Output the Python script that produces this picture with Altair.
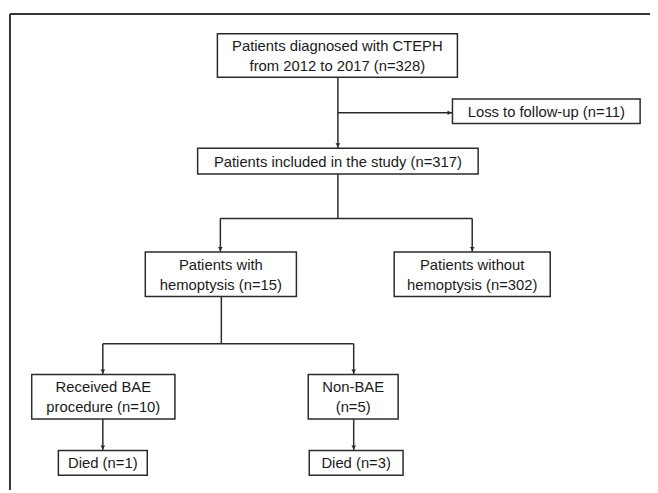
import altair as alt
import pandas as pd

# ---- content (text of each box) ----
box_names = ["diag", "loss", "incl", "hemo", "nohemo", "bae", "nonbae", "died1", "died3"]
box_labels = [
    "Patients diagnosed with CTEPH\nfrom 2012 to 2017 (n=328)",
    "Loss to follow-up (n=11)",
    "Patients included in the study (n=317)",
    "Patients with\nhemoptysis (n=15)",
    "Patients without\nhemoptysis (n=302)",
    "Received BAE\nprocedure (n=10)",
    "Non-BAE\n(n=5)",
    "Died (n=1)",
    "Died (n=3)",
]

# ---- layout (pixel positions of the flowchart elements) ----
layout = {
    "diag":   (220, 463, 31, 75),
    "loss":   (458, 648, 97, 122),
    "incl":   (200, 484, 147, 173),
    "hemo":   (147, 300, 252, 297),
    "nohemo": (399, 557, 252, 297),
    "bae":    (32, 177, 376, 421),
    "nonbae": (312, 403, 376, 421),
    "died1":  (59, 149, 453, 478),
    "died3":  (313, 408, 453, 478),
}
segments = [  # x, y, x2, y2
    (342, 75, 342, 147),
    (342, 111, 458, 111),
    (342, 173, 342, 218),
    (223, 218, 478, 218),
    (223, 218, 223, 252),
    (478, 218, 478, 252),
    (224, 297, 224, 345),
    (104, 345, 358, 345),
    (104, 345, 104, 376),
    (358, 345, 358, 376),
    (104, 421, 104, 453),
    (358, 421, 358, 453),
]
arrows_down = [(342, 147), (223, 252), (478, 252), (104, 376), (358, 376), (104, 453), (358, 453)]
arrows_right = [(458, 111)]
frame = [(10, 11, 10, 493), (10, 11, 658, 11)]
LINE_HEIGHT = 20

boxes = pd.DataFrame({
    "name": box_names,
    "label": box_labels,
    "x0": [layout[n][0] for n in box_names],
    "x1": [layout[n][1] for n in box_names],
    "y0": [layout[n][2] for n in box_names],
    "y1": [layout[n][3] for n in box_names],
})
boxes["cx"] = (boxes.x0 + boxes.x1) / 2
nlines = boxes["label"].str.count("\n") + 1
boxes["ty"] = (boxes.y0 + boxes.y1) / 2 - (nlines - 1) * LINE_HEIGHT / 2 + 0.5

seg = pd.DataFrame(segments, columns=["x", "y", "x2", "y2"])
frm = pd.DataFrame(frame, columns=["x", "y", "x2", "y2"])
ad = pd.DataFrame(arrows_down, columns=["x", "y"])
ad["y"] = ad["y"] - 3
ar = pd.DataFrame(arrows_right, columns=["x", "y"])
ar["x"] = ar["x"] - 3

X = alt.Scale(domain=[8, 658])
Y = alt.Scale(domain=[8, 493], reverse=True)
LINE = "#2b2b2b"

def xenc(f):
    return alt.X(f, type="quantitative", scale=X, axis=None)

def yenc(f):
    return alt.Y(f, type="quantitative", scale=Y, axis=None)

frame_layer = alt.Chart(frm).mark_rule(color="#333333", strokeWidth=2).encode(
    x=xenc("x"), y=yenc("y"), x2="x2", y2="y2")

seg_layer = alt.Chart(seg).mark_rule(color=LINE, strokeWidth=1.5).encode(
    x=xenc("x"), y=yenc("y"), x2="x2", y2="y2")

down_layer = alt.Chart(ad).mark_point(shape="triangle-down", filled=True, size=22,
                                       color=LINE, opacity=1).encode(
    x=xenc("x"), y=yenc("y"))
right_layer = alt.Chart(ar).mark_point(shape="triangle-right", filled=True, size=22,
                                        color=LINE, opacity=1).encode(
    x=xenc("x"), y=yenc("y"))

box_layer = alt.Chart(boxes).mark_rect(fill="white", stroke=LINE, strokeWidth=1.5).encode(
    x=xenc("x0"), x2="x1", y=yenc("y0"), y2="y1")

text_layer = alt.Chart(boxes).mark_text(
    font="Liberation Sans", fontSize=15, color="#1a1a1a", lineBreak="\n",
    lineHeight=LINE_HEIGHT, baseline="middle", align="center").encode(
    x=xenc("cx"), y=yenc("ty"), text="label:N")

chart = alt.layer(frame_layer, seg_layer, down_layer, right_layer, box_layer, text_layer).properties(
    width=650, height=485, padding=0, autosize=alt.AutoSizeParams(type="none"),
    background="white",
).configure_view(stroke=None)

chart.save("out.html", embed_options={"renderer": "svg", "actions": False})
